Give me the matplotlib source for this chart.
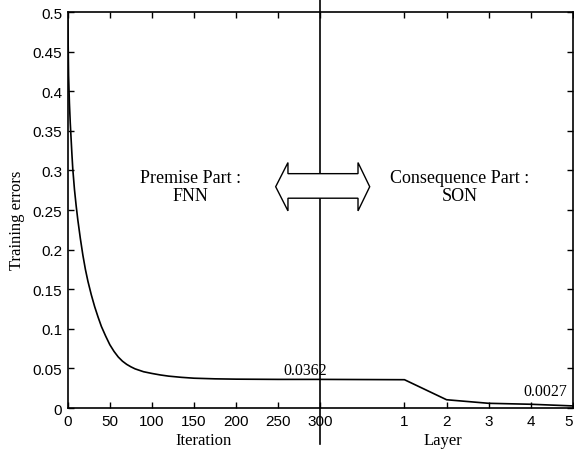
import matplotlib
matplotlib.use("Agg")
import matplotlib.pyplot as plt
from matplotlib.patches import Polygon
import numpy as np

# premise part (FNN): training error vs iteration
iterations = [0, 0.5, 1, 2, 3, 4, 5, 6, 8, 10, 12, 15, 18, 21, 24, 28, 32, 36, 40, 45, 50,
              55, 60, 65, 70, 75, 80, 90, 100, 110, 120, 135, 150, 175, 200, 250, 300]
iter_errors = [0.5, 0.46, 0.42, 0.385, 0.36, 0.34, 0.32, 0.302, 0.276, 0.2555, 0.2375, 0.214,
               0.193, 0.175, 0.160, 0.143, 0.128, 0.115, 0.103, 0.091, 0.080, 0.0715, 0.0645,
               0.0592, 0.0552, 0.0521, 0.0495, 0.0459, 0.0437, 0.0418, 0.0403, 0.0388, 0.0377,
               0.0369, 0.0365, 0.0362, 0.0362]

# consequence part (SON): training error vs layer
layers = [1, 2, 3, 4, 5]
layer_errors = [0.0358, 0.0105, 0.006, 0.0048, 0.0027]

iter_ticks = [0, 50, 100, 150, 200, 250, 300]
layer_ticks = [1, 2, 3, 4, 5]
y_ticks = [0, 0.05, 0.1, 0.15, 0.2, 0.25, 0.3, 0.35, 0.4, 0.45, 0.5]


def layer_pos(l):
    # layer axis is glued after iteration 300: layer 1 sits at 400, step 50
    return 350 + 50 * np.asarray(l)


serif = ["Liberation Serif", "DejaVu Serif"]
sans = ["Liberation Sans", "DejaVu Sans"]

fig = plt.figure(figsize=(5.74, 4.52), dpi=100)
ax = fig.add_axes([0.118, 0.095, 0.880, 0.876])

x_all = list(iterations) + list(layer_pos(layers))
y_all = list(iter_errors) + list(layer_errors)
ax.plot(x_all, y_all, color="black", lw=1.2)

ax.set_xlim(0, 600)
ax.set_ylim(0, 0.5)

xt = iter_ticks + list(layer_pos(layer_ticks))
xl = [str(t) for t in iter_ticks] + [str(t) for t in layer_ticks]
ax.set_xticks(xt)
ax.set_xticklabels(xl, family=sans, fontsize=11)
ax.get_xticklabels()[-1].set_ha("right")
ax.set_yticks(y_ticks)
ax.set_yticklabels(["0"] + ["%g" % v for v in y_ticks[1:]], family=sans, fontsize=11)
ax.tick_params(direction="in", length=4, top=True, right=True, width=1, pad=4)
for s in ax.spines.values():
    s.set_linewidth(1.2)

# separator between the two parts
ax.axvline(300, ymin=-0.091, ymax=1.04, color="black", lw=1.2, clip_on=False)

# outlined double arrow
xl_tip, xl_base, xr_base, xr_tip = 247, 261.6, 344.8, 358.7
y_mid, sh_top, sh_bot, hd_top, hd_bot = 0.2795, 0.296, 0.265, 0.310, 0.249
arrow = Polygon([(xl_tip, y_mid), (xl_base, hd_top), (xl_base, sh_top), (xr_base, sh_top),
                 (xr_base, hd_top), (xr_tip, y_mid), (xr_base, hd_bot), (xr_base, sh_bot),
                 (xl_base, sh_bot), (xl_base, hd_bot)],
                closed=True, facecolor="white", edgecolor="black", lw=1.0, zorder=3)
ax.add_patch(arrow)

ax.text(146, 0.280, "Premise Part :\nFNN", ha="center", va="center", family=serif,
        fontsize=13, linespacing=1.1)
ax.text(466, 0.280, "Consequence Part :\nSON", ha="center", va="center", family=serif,
        fontsize=13, linespacing=1.1)
ax.text(282, 0.038, "0.0362", ha="center", va="bottom", family=serif, fontsize=11.5)
ax.text(567, 0.011, "0.0027", ha="center", va="bottom", family=serif, fontsize=11.5)

fig.text(0.354, 0.024, "Iteration", ha="center", va="center", family=serif, fontsize=12)
fig.text(0.772, 0.024, "Layer", ha="center", va="center", family=serif, fontsize=12)
fig.text(0.030, 0.513, "Training errors", ha="center", va="center", rotation=90,
         family=serif, fontsize=12)

fig.savefig("out.png", dpi=100)
